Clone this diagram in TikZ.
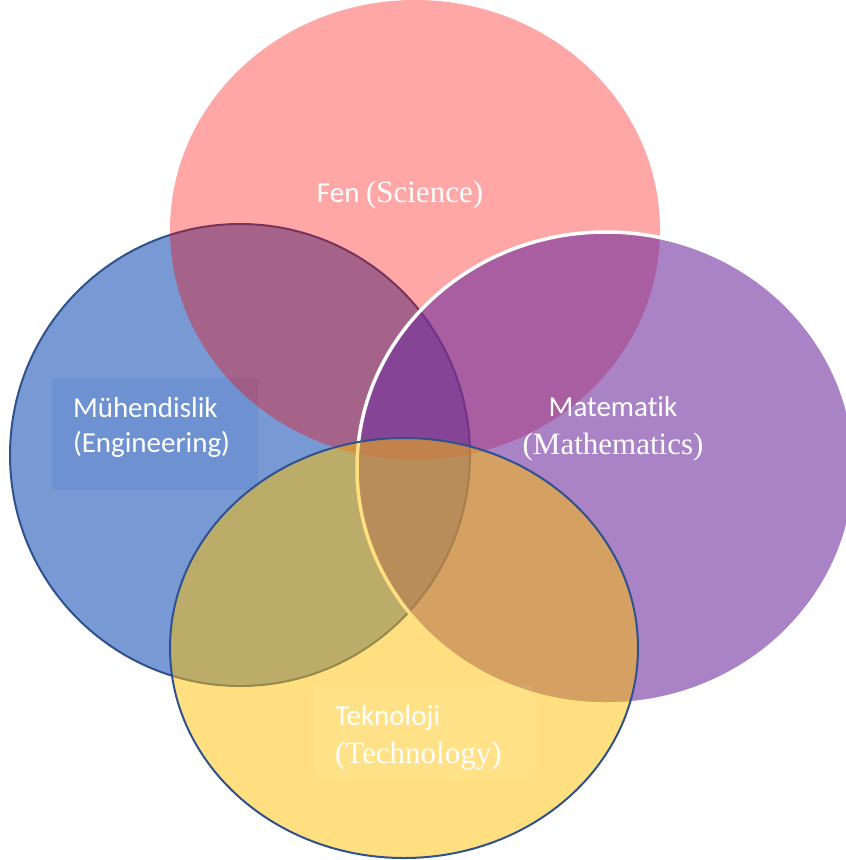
\documentclass[tikz,border=0pt]{standalone}
\usepackage{fontspec}
\usetikzlibrary{shapes.geometric}
\newfontfamily\lsans[Ligatures=NoCommon]{Carlito}
\newfontfamily\lserif{Liberation Serif}
\definecolor{engblue}{HTML}{4472C4}
\definecolor{scired}{HTML}{FF0000}
\definecolor{mathpurple}{HTML}{7030A0}
\definecolor{techgold}{HTML}{FFC000}
\definecolor{rimblue}{HTML}{2F528F}
\tikzset{
  blob/.style={ellipse, inner sep=0pt, outer sep=0pt},
  label/.style={text=white, inner sep=0pt, outer sep=0pt},
  sanslab/.style={label, font=\lsans\fontsize{29}{34}\selectfont},
  seriflab/.style={label, font=\lserif\fontsize{31}{36}\selectfont},
}
\begin{document}
\begin{tikzpicture}[x=1pt, y=-1pt]
  \useasboundingbox (0,0) rectangle (846,860);
  \clip (0,0) rectangle (846,860);
  % Engineering
  \node[blob, minimum width=460pt, minimum height=462pt,
        fill=engblue, fill opacity=0.72, draw=rimblue, line width=2pt]
        (eng) at (240,455) {};
  \fill[engblue, opacity=0.2] (52,378) rectangle (258,490);
  % Science
  \node[blob, minimum width=490pt, minimum height=460pt,
        fill=scired, fill opacity=0.35]
        (sci) at (415,230) {};
  % Mathematics
  \node[blob, minimum width=498pt, minimum height=472pt,
        fill=mathpurple, fill opacity=0.6, draw=white, line width=3.5pt]
        (mat) at (606,468) {};
  % Technology
  \node[blob, minimum width=468pt, minimum height=420pt,
        fill=techgold, fill opacity=0.5, draw=rimblue, line width=2pt]
        (tec) at (404,648) {};
  \fill[white, opacity=0.07] (315,685) rectangle (532,780);
  % Labels
  \node[anchor=base, label] (scilab) at (400,202)
        {{\lsans\fontsize{29}{34}\selectfont Fen }{\lserif\fontsize{31}{36}\selectfont(Science)}};
  \node[anchor=base west, sanslab] (englab1) at (73,417) {Mühendislik};
  \node[anchor=base west, sanslab] (englab2) at (73,452) {(Engineering)};
  \node[anchor=base, sanslab] (matlab1) at (613,416) {Matematik};
  \node[anchor=base, seriflab] (matlab2) at (613,454) {(Mathematics)};
  \node[anchor=base west, sanslab] (teclab1) at (335,725) {Teknoloji};
  \node[anchor=base west, seriflab] (teclab2) at (335,763) {(Technology)};
\end{tikzpicture}
\end{document}
